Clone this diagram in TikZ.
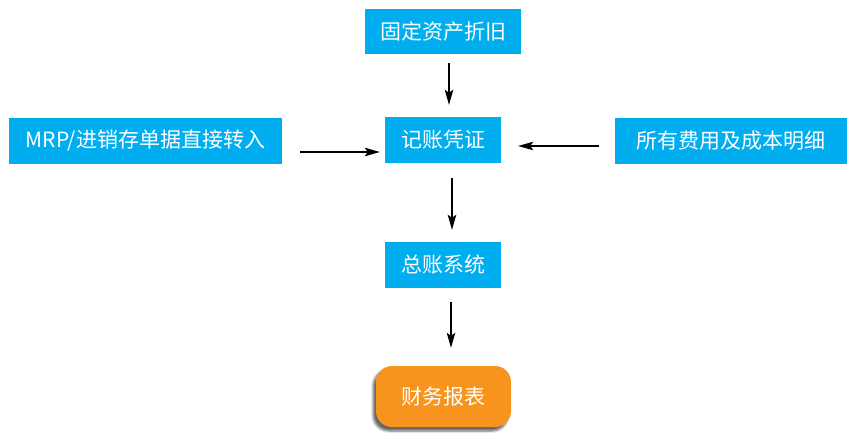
\documentclass[tikz,border=0pt]{standalone}
\usepackage{fontspec}
\setmainfont{Noto Sans CJK SC}
\usetikzlibrary{arrows.meta,shadows.blur,calc}
\definecolor{boxblue}{HTML}{00AEEF}
\definecolor{boxorange}{HTML}{F7941D}
\tikzset{
  box/.style={fill=boxblue, text=white, inner sep=0pt, font=\fontsize{21}{25}\selectfont},
  reportbox/.style={fill=boxorange, text=white, inner sep=0pt, rounded corners=16pt,
    font=\fontsize{21}{25}\selectfont,
    blur shadow={shadow xshift=-3pt, shadow yshift=-4pt, shadow opacity=60, shadow blur steps=6}},
  arr/.style={-{Stealth[length=15pt,width=8.5pt,inset=3pt]}, line width=1.3pt, black}
}
\begin{document}
\begin{tikzpicture}[x=1pt,y=-1pt]
\useasboundingbox (0,0) rectangle (854,441);
\node[box, minimum width=156pt, minimum height=45pt] (fa) at (443,31.5) {固定资产折旧};
\node[box, minimum width=116pt, minimum height=46pt] (jz) at (443,140) {记账凭证};
\node[box, minimum width=273pt, minimum height=46pt] (mrp) at (145.5,141) {MRP/进销存单据直接转入};
\node[box, minimum width=232pt, minimum height=46pt] (fy) at (731,141) {所有费用及成本明细};
\node[box, minimum width=116pt, minimum height=46pt] (zz) at (443,265) {总账系统};
\node[reportbox, minimum width=135pt, minimum height=61pt] (bb) at (443.5,396.5) {财务报表};
\draw[arr, shorten <=9pt, shorten >=12pt] ($(fa.south)+(6,0)$) -- ($(jz.north)+(6,0)$);
\draw[arr, shorten <=18pt, shorten >=5pt] ($(mrp.east)+(0,11)$) -- ($(jz.west)+(0,12)$);
\draw[arr, shorten <=16pt, shorten >=17pt] ($(fy.west)+(0,5)$) -- ($(jz.east)+(0,6)$);
\draw[arr, shorten <=15pt, shorten >=12pt] ($(jz.south)+(9,0)$) -- ($(zz.north)+(9,0)$);
\draw[arr, shorten <=14pt, shorten >=18pt] ($(zz.south)+(8,0)$) -- ($(bb.north)+(7.5,0)$);
\end{tikzpicture}
\end{document}
